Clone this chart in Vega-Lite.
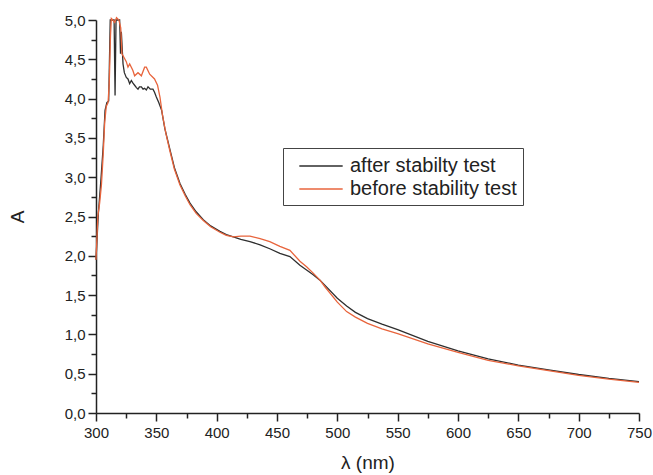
{
  "$schema": "https://vega.github.io/schema/vega-lite/v6.json",
  "width": 543,
  "height": 393,
  "autosize": "none",
  "padding": {"left": 96, "top": 20, "right": 14, "bottom": 62},
  "background": "white",
  "data": {"values": [
    {"series":"after stabilty test","wl":300,"A":1.95},{"series":"after stabilty test","wl":302,"A":2.55},{"series":"after stabilty test","wl":304,"A":2.95},{"series":"after stabilty test","wl":306,"A":3.4},{"series":"after stabilty test","wl":307.5,"A":3.85},{"series":"after stabilty test","wl":309,"A":3.95},{"series":"after stabilty test","wl":310.5,"A":3.97},{"series":"after stabilty test","wl":311.3,"A":4.6},{"series":"after stabilty test","wl":311.8,"A":5.0},{"series":"after stabilty test","wl":315,"A":5.0},{"series":"after stabilty test","wl":315.8,"A":4.04},{"series":"after stabilty test","wl":316.6,"A":5.0},{"series":"after stabilty test","wl":319.6,"A":5.0},{"series":"after stabilty test","wl":320.3,"A":4.57},{"series":"after stabilty test","wl":321,"A":4.85},{"series":"after stabilty test","wl":322.4,"A":4.44},{"series":"after stabilty test","wl":323.5,"A":4.33},{"series":"after stabilty test","wl":325.1,"A":4.27},{"series":"after stabilty test","wl":326.5,"A":4.25},{"series":"after stabilty test","wl":327.9,"A":4.19},{"series":"after stabilty test","wl":329.3,"A":4.23},{"series":"after stabilty test","wl":330.5,"A":4.2},{"series":"after stabilty test","wl":332,"A":4.17},{"series":"after stabilty test","wl":333.5,"A":4.14},{"series":"after stabilty test","wl":334.8,"A":4.12},{"series":"after stabilty test","wl":336,"A":4.15},{"series":"after stabilty test","wl":337.6,"A":4.15},{"series":"after stabilty test","wl":339,"A":4.12},{"series":"after stabilty test","wl":340.3,"A":4.13},{"series":"after stabilty test","wl":341.7,"A":4.11},{"series":"after stabilty test","wl":343.1,"A":4.15},{"series":"after stabilty test","wl":345,"A":4.12},{"series":"after stabilty test","wl":347.2,"A":4.12},{"series":"after stabilty test","wl":348.5,"A":4.08},{"series":"after stabilty test","wl":350,"A":4.02},{"series":"after stabilty test","wl":352,"A":3.95},{"series":"after stabilty test","wl":354.4,"A":3.85},{"series":"after stabilty test","wl":357,"A":3.62},{"series":"after stabilty test","wl":361.3,"A":3.35},{"series":"after stabilty test","wl":365,"A":3.12},{"series":"after stabilty test","wl":369.6,"A":2.92},{"series":"after stabilty test","wl":374,"A":2.78},{"series":"after stabilty test","wl":377.9,"A":2.67},{"series":"after stabilty test","wl":383,"A":2.56},{"series":"after stabilty test","wl":388.9,"A":2.46},{"series":"after stabilty test","wl":395,"A":2.38},{"series":"after stabilty test","wl":402.7,"A":2.31},{"series":"after stabilty test","wl":408,"A":2.27},{"series":"after stabilty test","wl":413.8,"A":2.24},{"series":"after stabilty test","wl":420,"A":2.21},{"series":"after stabilty test","wl":427.6,"A":2.18},{"series":"after stabilty test","wl":436,"A":2.14},{"series":"after stabilty test","wl":444,"A":2.09},{"series":"after stabilty test","wl":452.4,"A":2.03},{"series":"after stabilty test","wl":460.7,"A":1.99},{"series":"after stabilty test","wl":469,"A":1.88},{"series":"after stabilty test","wl":474.5,"A":1.82},{"series":"after stabilty test","wl":480,"A":1.76},{"series":"after stabilty test","wl":485.6,"A":1.69},{"series":"after stabilty test","wl":490,"A":1.62},{"series":"after stabilty test","wl":500,"A":1.46},{"series":"after stabilty test","wl":507.7,"A":1.36},{"series":"after stabilty test","wl":515,"A":1.28},{"series":"after stabilty test","wl":525,"A":1.2},{"series":"after stabilty test","wl":537,"A":1.13},{"series":"after stabilty test","wl":550,"A":1.06},{"series":"after stabilty test","wl":575,"A":0.91},{"series":"after stabilty test","wl":600,"A":0.79},{"series":"after stabilty test","wl":625,"A":0.69},{"series":"after stabilty test","wl":650,"A":0.61},{"series":"after stabilty test","wl":675,"A":0.55},{"series":"after stabilty test","wl":700,"A":0.49},{"series":"after stabilty test","wl":725,"A":0.44},{"series":"after stabilty test","wl":750,"A":0.40},
    {"series":"before stability test","wl":300,"A":1.95},{"series":"before stability test","wl":301.5,"A":2.5},{"series":"before stability test","wl":303,"A":2.67},{"series":"before stability test","wl":304.5,"A":2.9},{"series":"before stability test","wl":306,"A":3.3},{"series":"before stability test","wl":307.2,"A":3.7},{"series":"before stability test","wl":308.5,"A":3.9},{"series":"before stability test","wl":310,"A":3.95},{"series":"before stability test","wl":311,"A":4.2},{"series":"before stability test","wl":312,"A":4.8},{"series":"before stability test","wl":312.7,"A":5.02},{"series":"before stability test","wl":314,"A":5.0},{"series":"before stability test","wl":315.5,"A":4.97},{"series":"before stability test","wl":317,"A":5.03},{"series":"before stability test","wl":319,"A":5.0},{"series":"before stability test","wl":320.5,"A":4.9},{"series":"before stability test","wl":321.5,"A":4.57},{"series":"before stability test","wl":323,"A":4.53},{"series":"before stability test","wl":325.1,"A":4.47},{"series":"before stability test","wl":326.5,"A":4.4},{"series":"before stability test","wl":327.9,"A":4.44},{"series":"before stability test","wl":330.5,"A":4.36},{"series":"before stability test","wl":332,"A":4.29},{"series":"before stability test","wl":334.8,"A":4.33},{"series":"before stability test","wl":337.6,"A":4.29},{"series":"before stability test","wl":340.3,"A":4.4},{"series":"before stability test","wl":341.7,"A":4.4},{"series":"before stability test","wl":344.5,"A":4.31},{"series":"before stability test","wl":348.5,"A":4.25},{"series":"before stability test","wl":351,"A":4.17},{"series":"before stability test","wl":353,"A":4.02},{"series":"before stability test","wl":355,"A":3.8},{"series":"before stability test","wl":358,"A":3.55},{"series":"before stability test","wl":361.3,"A":3.33},{"series":"before stability test","wl":365,"A":3.1},{"series":"before stability test","wl":369.6,"A":2.9},{"series":"before stability test","wl":374,"A":2.76},{"series":"before stability test","wl":377.9,"A":2.65},{"series":"before stability test","wl":383,"A":2.54},{"series":"before stability test","wl":388.9,"A":2.45},{"series":"before stability test","wl":395,"A":2.37},{"series":"before stability test","wl":402.7,"A":2.3},{"series":"before stability test","wl":408,"A":2.26},{"series":"before stability test","wl":413.8,"A":2.24},{"series":"before stability test","wl":420,"A":2.25},{"series":"before stability test","wl":427.6,"A":2.25},{"series":"before stability test","wl":436,"A":2.22},{"series":"before stability test","wl":444,"A":2.18},{"series":"before stability test","wl":452.4,"A":2.12},{"series":"before stability test","wl":460.7,"A":2.07},{"series":"before stability test","wl":469,"A":1.93},{"series":"before stability test","wl":474.5,"A":1.86},{"series":"before stability test","wl":480,"A":1.78},{"series":"before stability test","wl":485.6,"A":1.69},{"series":"before stability test","wl":490,"A":1.6},{"series":"before stability test","wl":500,"A":1.41},{"series":"before stability test","wl":507.7,"A":1.29},{"series":"before stability test","wl":515,"A":1.22},{"series":"before stability test","wl":525,"A":1.14},{"series":"before stability test","wl":537,"A":1.07},{"series":"before stability test","wl":550,"A":1.01},{"series":"before stability test","wl":575,"A":0.88},{"series":"before stability test","wl":600,"A":0.77},{"series":"before stability test","wl":625,"A":0.67},{"series":"before stability test","wl":650,"A":0.6},{"series":"before stability test","wl":675,"A":0.54},{"series":"before stability test","wl":700,"A":0.48},{"series":"before stability test","wl":725,"A":0.43},{"series":"before stability test","wl":750,"A":0.39}
  ]},
  "mark": {"type": "line", "strokeWidth": 1.3},
  "encoding": {
    "x": {
      "field": "wl", "type": "quantitative",
      "scale": {"domain": [300, 750], "nice": false, "zero": false},
      "axis": {
        "title": "λ (nm)",
        "values": [300,325,350,375,400,425,450,475,500,525,550,575,600,625,650,675,700,725,750],
        "labelExpr": "datum.value % 50 == 0 ? datum.label : ''",
        "tickSize": {"condition": {"test": "datum.value % 50 != 0", "value": 5}, "value": 8},
        "labelPadding": 4,
        "titlePadding": 13
      }
    },
    "y": {
      "field": "A", "type": "quantitative",
      "scale": {"domain": [0, 5], "nice": false},
      "axis": {
        "title": "A",
        "values": [0,0.25,0.5,0.75,1,1.25,1.5,1.75,2,2.25,2.5,2.75,3,3.25,3.5,3.75,4,4.25,4.5,4.75,5],
        "labelExpr": "datum.value % 0.5 == 0 ? replace(format(datum.value, '.1f'), '.', ',') : ''",
        "tickSize": {"condition": {"test": "datum.value % 0.5 != 0", "value": 5}, "value": 8},
        "labelPadding": 3,
        "titlePadding": 37
      }
    },
    "color": {
      "field": "series", "type": "nominal",
      "scale": {"domain": ["after stabilty test", "before stability test"], "range": ["#2e2e2e", "#e8643c"]},
      "legend": {"title": null}
    }
  },
  "config": {
    "font": "Liberation Sans",
    "view": {"stroke": null},
    "axis": {
      "grid": false,
      "domainColor": "#222",
      "domainWidth": 1.5,
      "tickColor": "#222",
      "tickWidth": 1.5,
      "labelFont": "Liberation Sans",
      "labelFontSize": 15,
      "labelColor": "#222",
      "labelFlush": false,
      "labelOverlap": false,
      "titleFont": "Liberation Sans",
      "titleFontSize": 19,
      "titleFontWeight": "normal",
      "titleColor": "#222"
    },
    "legend": {
      "orient": "none",
      "legendX": 187,
      "legendY": 128,
      "strokeColor": "#444",
      "fillColor": "white",
      "padding": 6,
      "symbolOffset": 20,
      "symbolType": "M-2,0H2",
      "symbolSize": 470,
      "symbolStrokeWidth": 1.4,
      "labelFont": "Liberation Sans",
      "labelFontSize": 20,
      "labelColor": "#222",
      "labelOffset": 17,
      "labelLimit": 300,
      "rowPadding": 1
    }
  }
}
